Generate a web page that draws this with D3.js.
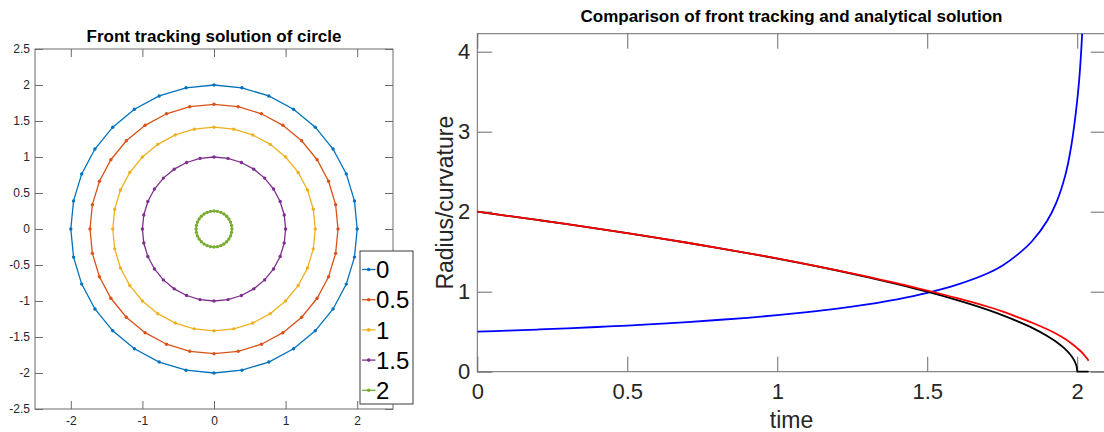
<!DOCTYPE html>
<html>
<head>
<meta charset="utf-8">
<script src="https://cdn.jsdelivr.net/npm/d3@7"></script>
<style>
  html, body { margin: 0; padding: 0; background: #fff; }
  svg { display: block; font-family: "Liberation Sans", Arial, Helvetica, sans-serif; }
</style>
</head>
<body>
<svg id="fig" width="1104" height="432"></svg>
<script>
// ---- Fronts of the shrinking circle (left panel) ----
const frontTimes  = ["0", "0.5", "1", "1.5", "2"];
const frontRadii  = [2.0, 1.732, 1.414, 1.0, 0.25];
const frontColors = ["#0072BD", "#D95319", "#EDB120", "#7E2F8E", "#77AC30"];
const nodesPerFront = 32;

const circleTicksY      = [-2.5, -2, -1.5, -1, -0.5, 0, 0.5, 1, 1.5, 2, 2.5];
const circleTickLabelsY = ["-2.5", "-2", "-1.5", "-1", "-0.5", "0", "0.5", "1", "1.5", "2", "2.5"];
const circleTicksX      = [-2, -1, 0, 1, 2];
const circleTickLabelsX = ["-2", "-1", "0", "1", "2"];

// ---- Radius and curvature against time (right panel) ----
const timeFront = [0, 0.1, 0.2, 0.3, 0.4, 0.5, 0.6, 0.7, 0.8, 0.9, 1.0, 1.1, 1.2, 1.3, 1.4,
                   1.5, 1.6, 1.7, 1.75, 1.8, 1.85, 1.9, 1.93, 1.96, 1.98, 2.0, 2.01, 2.02, 2.03, 2.038];
const radiusFront = [2.000, 1.949, 1.897, 1.844, 1.789, 1.732, 1.673, 1.612, 1.549, 1.483, 1.416,
                     1.343, 1.268, 1.187, 1.105, 1.015, 0.919, 0.815, 0.755, 0.685, 0.612, 0.530,
                     0.474, 0.408, 0.355, 0.295, 0.262, 0.222, 0.178, 0.1375];
const curvatureFront = [0.500, 0.513, 0.527, 0.542, 0.559, 0.577, 0.598, 0.620, 0.646, 0.674, 0.706,
                        0.745, 0.789, 0.842, 0.905, 0.985, 1.088, 1.227, 1.325, 1.460, 1.634, 1.887,
                        2.110, 2.451, 2.817, 3.390, 3.817, 4.505, 5.618, 7.273];
const timeExact = [0, 0.1, 0.2, 0.3, 0.4, 0.5, 0.6, 0.7, 0.8, 0.9, 1.0, 1.1, 1.2, 1.3, 1.4,
                   1.5, 1.6, 1.7, 1.75, 1.8, 1.85, 1.9, 1.93, 1.96, 1.98, 1.99, 1.995, 1.999, 2.0, 2.038];
const radiusExact = [2.000, 1.949, 1.897, 1.844, 1.789, 1.732, 1.673, 1.612, 1.549, 1.483, 1.414,
                     1.342, 1.265, 1.183, 1.095, 1.000, 0.894, 0.775, 0.707, 0.632, 0.548, 0.447,
                     0.374, 0.283, 0.200, 0.141, 0.100, 0.045, 0, 0];

const compTicksX      = [0, 0.5, 1, 1.5, 2];
const compTickLabelsX = ["0", "0.5", "1", "1.5", "2"];
const compTicksY      = [0, 1, 2, 3, 4];
const compTickLabelsY = ["0", "1", "2", "3", "4"];

const svg = d3.select("#fig");
const axisColor = "#6b6b6b";
const textColor = "#262626";

function styleAxis(g) {
  g.select(".domain").remove();
  g.selectAll(".tick line").attr("stroke", axisColor).attr("stroke-width", 1);
  g.selectAll(".tick text").attr("fill", textColor);
}

// ================= Left panel =================
const L = { left: 35, right: 393, top: 49, bottom: 409 };
const xL = d3.scaleLinear().domain([-2.5, 2.5]).range([L.left, L.right]);
const yL = d3.scaleLinear().domain([-2.5, 2.5]).range([L.bottom, L.top]);
const tickL = 8;

svg.append("g").attr("transform", `translate(${L.left},0)`)
  .call(d3.axisLeft(yL).tickValues(circleTicksY).tickSize(-tickL).tickPadding(5)
        .tickFormat((d, i) => circleTickLabelsY[i]))
  .call(styleAxis)
  .selectAll("text").attr("font-size", 12).attr("font-family", null);

svg.append("g").attr("transform", `translate(${L.right},0)`)
  .call(d3.axisRight(yL).tickValues(circleTicksY).tickSize(-tickL).tickFormat(""))
  .call(styleAxis);

svg.append("g").attr("transform", `translate(0,${L.bottom})`)
  .call(d3.axisBottom(xL).tickValues(circleTicksX).tickSize(-tickL).tickPadding(7)
        .tickFormat((d, i) => circleTickLabelsX[i]))
  .call(styleAxis)
  .selectAll("text").attr("font-size", 12).attr("font-family", null);

svg.append("g").attr("transform", `translate(0,${L.top})`)
  .call(d3.axisTop(xL).tickValues(circleTicksX).tickSize(-tickL).tickFormat(""))
  .call(styleAxis);

svg.append("rect")
  .attr("x", L.left).attr("y", L.top)
  .attr("width", L.right - L.left).attr("height", L.bottom - L.top)
  .attr("fill", "none").attr("stroke", axisColor).attr("stroke-width", 1);

// polygonal fronts with their nodes
const fronts = frontRadii.map((r, fi) => {
  const pts = d3.range(nodesPerFront + 1).map(k => {
    const a = (k % nodesPerFront) * 2 * Math.PI / nodesPerFront;
    return [r * Math.cos(a), r * Math.sin(a)];
  });
  return { r, color: frontColors[fi], pts };
});
const frontLine = d3.line().x(d => xL(d[0])).y(d => yL(d[1]));
const gFronts = svg.append("g");
fronts.forEach(f => {
  gFronts.append("path").attr("d", frontLine(f.pts))
    .attr("fill", "none").attr("stroke", f.color).attr("stroke-width", 1.3);
  gFronts.selectAll(null).data(f.pts.slice(0, nodesPerFront)).enter().append("circle")
    .attr("cx", d => xL(d[0])).attr("cy", d => yL(d[1])).attr("r", 1.7)
    .attr("fill", f.color);
});

svg.append("text")
  .attr("x", (L.left + L.right) / 2).attr("y", 41.5)
  .attr("text-anchor", "middle").attr("font-weight", "bold").attr("font-size", 16)
  .attr("textLength", 255).attr("lengthAdjust", "spacingAndGlyphs")
  .attr("fill", "#000")
  .text("Front tracking solution of circle");

// legend
const leg = svg.append("g");
leg.append("rect").attr("x", 360).attr("y", 251).attr("width", 53).attr("height", 153)
  .attr("fill", "#fff").attr("stroke", "#3a3a3a").attr("stroke-width", 1);
frontTimes.forEach((lab, i) => {
  const cy = 269.5 + i * 30.2;
  leg.append("line").attr("x1", 362).attr("x2", 375.5).attr("y1", cy).attr("y2", cy)
    .attr("stroke", frontColors[i]).attr("stroke-width", 1.3);
  leg.append("circle").attr("cx", 368.7).attr("cy", cy).attr("r", 1.8).attr("fill", frontColors[i]);
  leg.append("text").attr("x", 376).attr("y", cy).attr("dy", "0.36em")
    .attr("font-size", 24).attr("fill", "#000").text(lab);
});

// ================= Right panel =================
const R = { left: 477.3, right: 1105.7, top: 33.7, bottom: 371.7 };
const xR = d3.scaleLinear().domain([0, 2.095]).range([R.left, R.right]);
const yR = d3.scaleLinear().domain([0, 4.225]).range([R.bottom, R.top]);
const tickR = 15;

svg.append("g").attr("transform", `translate(${R.left},0)`)
  .call(d3.axisLeft(yR).tickValues(compTicksY).tickSize(-tickR).tickPadding(7)
        .tickFormat((d, i) => compTickLabelsY[i]))
  .call(styleAxis)
  .selectAll("text").attr("font-size", 22).attr("font-family", null);

svg.append("g").attr("transform", `translate(${R.right},0)`)
  .call(d3.axisRight(yR).tickValues(compTicksY).tickSize(-tickR).tickFormat(""))
  .call(styleAxis);

svg.append("g").attr("transform", `translate(0,${R.bottom})`)
  .call(d3.axisBottom(xR).tickValues(compTicksX).tickSize(-tickR).tickPadding(12)
        .tickFormat((d, i) => compTickLabelsX[i]))
  .call(styleAxis)
  .selectAll("text").attr("font-size", 22).attr("font-family", null);

svg.append("g").attr("transform", `translate(0,${R.top})`)
  .call(d3.axisTop(xR).tickValues(compTicksX).tickSize(-tickR).tickFormat(""))
  .call(styleAxis);

svg.append("rect")
  .attr("x", R.left).attr("y", R.top)
  .attr("width", R.right - R.left).attr("height", R.bottom - R.top)
  .attr("fill", "none").attr("stroke", axisColor).attr("stroke-width", 1);

svg.append("defs").append("clipPath").attr("id", "plotClip")
  .append("rect").attr("x", R.left).attr("y", R.top)
  .attr("width", R.right - R.left).attr("height", R.bottom - R.top + 3);

const gCurves = svg.append("g").attr("clip-path", "url(#plotClip)");
const curve = (xs, ys, shape) => d3.line().curve(shape)
  .x((d, i) => xR(xs[i])).y((d, i) => yR(ys[i]))(ys);
const smooth = d3.curveCatmullRom.alpha(0.5);

gCurves.append("path").attr("d", curve(timeFront, curvatureFront, smooth))
  .attr("fill", "none").attr("stroke", "#0000ff").attr("stroke-width", 1.8);
gCurves.append("path").attr("d", curve(timeExact, radiusExact, d3.curveMonotoneX))
  .attr("fill", "none").attr("stroke", "#000").attr("stroke-width", 1.8);
gCurves.append("path").attr("d", curve(timeFront, radiusFront, smooth))
  .attr("fill", "none").attr("stroke", "#ff0000").attr("stroke-width", 1.8);

svg.append("text")
  .attr("x", (R.left + R.right) / 2).attr("y", 21.7)
  .attr("text-anchor", "middle").attr("font-weight", "bold").attr("font-size", 16)
  .attr("textLength", 422).attr("lengthAdjust", "spacingAndGlyphs")
  .attr("fill", "#000")
  .text("Comparison of front tracking and analytical solution");

svg.append("text")
  .attr("x", (R.left + R.right) / 2).attr("y", 428)
  .attr("text-anchor", "middle").attr("font-size", 23).attr("fill", textColor)
  .text("time");

svg.append("text")
  .attr("transform", `translate(453,${(R.top + R.bottom) / 2}) rotate(-90)`)
  .attr("text-anchor", "middle").attr("font-size", 23).attr("fill", textColor)
  .text("Radius/curvature");
</script>
</body>
</html>
